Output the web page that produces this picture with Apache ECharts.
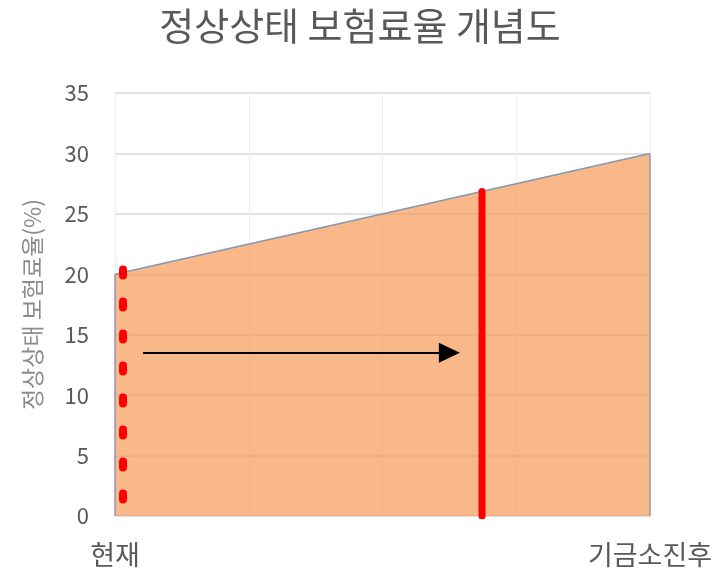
<!DOCTYPE html>
<html><head><meta charset="utf-8">
<script src="https://cdn.jsdelivr.net/npm/echarts@6/dist/echarts.min.js"></script>
<style>html,body{margin:0;padding:0;background:#fff}#c{width:720px;height:573px}</style>
</head><body><div id="c"></div>
<script>
const titleText = '정상상태 보험료율 개념도';
const yAxisName = '정상상태 보험료율(%)';
const xTickLabels = {0: '현재', 4: '기금소진후'};
const areaData = [[0, 20], [4, 30]];
const dottedLineData = [[0.06, 20.4], [0.06, 0]];
const solidLineData = [[2.744, 0], [2.744, 26.86]];
const arrowStart = [0.21, 13.5];
const arrowEnd = [2.50, 13.5];

const font = '"Noto Sans CJK KR", "Noto Sans", sans-serif';
const chart = echarts.init(document.getElementById('c'));
chart.setOption({
  animation: false,
  backgroundColor: '#fff',
  title: {
    text: titleText, left: 'center', top: 2,
    textStyle: {fontFamily: font, fontSize: 38, fontWeight: 'normal', color: '#595959'}
  },
  grid: {left: 115, right: 70, top: 93, bottom: 57},
  xAxis: {
    type: 'value', min: 0, max: 4, interval: 1,
    axisLine: {show: false}, axisTick: {show: false},
    splitLine: {show: true, lineStyle: {color: '#eeeeee', width: 1}},
    axisLabel: {
      margin: 25, fontFamily: font, fontSize: 27, color: '#595959',
      formatter: v => xTickLabels[v] || ''
    }
  },
  yAxis: {
    type: 'value', min: 0, max: 35, interval: 5,
    name: yAxisName, nameLocation: 'middle', nameGap: 71,
    nameTextStyle: {fontFamily: font, fontSize: 23, color: '#8c8c8c'},
    axisLine: {show: false}, axisTick: {show: false},
    splitLine: {lineStyle: {color: '#d9d9d9', width: 1.5}},
    axisLabel: {margin: 26, fontFamily: font, fontSize: 22, color: '#595959'}
  },
  series: [
    {
      type: 'line', data: areaData, symbol: 'none', z: 2,
      lineStyle: {color: '#8497B0', width: 1.5},
      areaStyle: {color: '#F59A59', opacity: 0.7}
    },
    {
      type: 'line', data: [[0, 0], [0, 20]], symbol: 'none', z: 3,
      lineStyle: {color: '#9a90b8', width: 1.5}
    },
    {
      type: 'line', data: [[4, 0], [4, 30]], symbol: 'none', z: 3,
      lineStyle: {color: '#9a98b0', width: 1.5}
    },
    {
      type: 'line', data: dottedLineData, symbol: 'none', z: 5,
      lineStyle: {color: '#ff0000', width: 8, type: [6, 26], cap: 'round'}
    },
    {
      type: 'line', data: solidLineData, symbol: 'none', z: 5,
      lineStyle: {color: '#ff0000', width: 7, cap: 'round'}
    },
    {
      type: 'line', data: [], z: 6,
      markLine: {
        silent: true, symbol: ['none', 'triangle'], symbolSize: [20, 21],
        label: {show: false},
        lineStyle: {color: '#000', width: 2, type: 'solid'},
        data: [[{coord: arrowStart}, {coord: arrowEnd}]]
      }
    }
  ]
});
</script></body></html>
